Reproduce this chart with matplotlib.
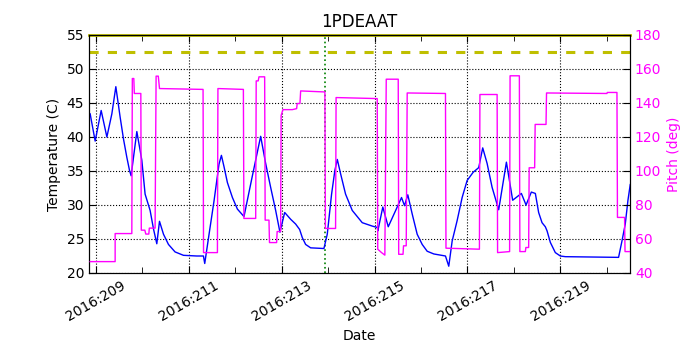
import matplotlib
matplotlib.use("Agg")
import matplotlib.pyplot as plt

# Temperature (blue) : day-of-year vs deg C
temp_day = [208.877, 208.985, 209.114, 209.237, 209.344, 209.430, 209.523, 209.595,
            209.667, 209.724, 209.759, 209.882, 209.989, 210.06, 210.168, 210.24,
            210.312, 210.370, 210.456, 210.563, 210.705, 210.886, 211.172, 211.316,
            211.344, 211.437, 211.544, 211.651, 211.703, 211.76, 211.832, 211.94,
            212.047, 212.189, 212.37, 212.548, 212.656, 212.763, 212.871, 212.963,
            213.065, 213.194, 213.301, 213.387, 213.445, 213.516, 213.624, 213.910,
            213.982, 214.075, 214.146, 214.198, 214.269, 214.376, 214.520, 214.735,
            214.95, 215.058, 215.071, 215.178, 215.295, 215.581, 215.645, 215.716,
            215.810, 215.918, 216.026, 216.133, 216.276, 216.527, 216.598, 216.671,
            216.778, 216.886, 216.993, 217.122, 217.243, 217.329, 217.424, 217.531,
            217.673, 217.839, 217.974, 218.161, 218.262, 218.376, 218.462, 218.533,
            218.606, 218.677, 218.714, 218.785, 218.892, 219.0, 219.108, 220.254,
            220.327, 220.398, 220.456, 220.505]
temp_val = [43.4, 39.4, 43.9, 40.0, 43.4, 47.4, 42.9, 39.7,
            37.0, 35.1, 34.3, 40.8, 36.6, 31.6, 29.2, 26.5,
            24.3, 27.6, 25.7, 24.2, 23.1, 22.6, 22.5, 22.5,
            21.4, 25.7, 30.6, 36.0, 37.3, 35.6, 33.3, 31.1,
            29.4, 28.3, 34.3, 40.1, 36.1, 32.6, 29.2, 26.0,
            28.9, 27.9, 27.2, 26.4, 25.2, 24.2, 23.7, 23.6,
            25.7, 31.6, 35.1, 36.7, 34.6, 31.6, 29.2, 27.4,
            26.9, 26.7, 26.2, 29.7, 26.8, 31.1, 29.9, 31.5,
            28.7, 25.7, 24.2, 23.2, 22.8, 22.5, 21.0, 24.7,
            27.7, 31.1, 33.6, 34.8, 35.5, 38.4, 36.1, 32.6,
            29.3, 36.3, 30.7, 31.7, 30.0, 31.9, 31.7, 28.9,
            27.4, 26.8, 26.2, 24.5, 23.0, 22.5, 22.4, 22.3,
            24.7, 27.2, 30.7, 33.0]

# Pitch (magenta) : day-of-year vs deg
pitch_day = [208.877, 209.415, 209.415, 209.774, 209.785, 209.817, 209.828, 209.968,
             209.978, 210.054, 210.075, 210.140, 210.151, 210.275, 210.297, 210.344,
             210.370, 211.308, 211.318, 211.617, 211.628, 212.176, 212.187, 212.441,
             212.452, 212.495, 212.512, 212.634, 212.645, 212.727, 212.738, 212.892,
             212.903, 212.978, 212.989, 213.028, 213.230, 213.323, 213.334, 213.394,
             213.409, 213.931, 213.942, 214.161, 214.172, 215.058, 215.069, 215.151,
             215.222, 215.252, 215.510, 215.520, 215.613, 215.624, 215.682, 215.703,
             216.527, 216.538, 217.258, 217.269, 217.639, 217.649, 217.908, 217.918,
             218.118, 218.129, 218.247, 218.258, 218.318, 218.329, 218.447, 218.458,
             218.692, 218.703, 220.004, 220.011, 220.219, 220.230, 220.383, 220.393,
             220.505]
pitch_val = [46.7, 46.7, 63.2, 63.2, 154.4, 154.4, 145.6, 145.6,
             65.2, 65.2, 62.9, 62.9, 66.4, 66.4, 155.8, 155.8,
             148.5, 148.0, 52.0, 52.0, 148.5, 148.0, 72.1, 72.1,
             153.0, 153.0, 155.4, 155.4, 71.1, 71.1, 57.9, 57.9,
             64.4, 64.4, 132.7, 136.1, 136.1, 136.7, 139.7, 139.7,
             147.1, 146.5, 66.2, 66.2, 143.2, 142.6, 54.0, 52.0,
             50.5, 154.0, 154.0, 51.0, 51.0, 56.0, 56.0, 145.9,
             145.6, 54.6, 54.0, 145.0, 145.0, 52.0, 52.6, 156.0,
             156.0, 52.6, 52.6, 55.0, 55.0, 101.9, 101.9, 127.4,
             127.4, 145.9, 145.6, 146.2, 146.2, 72.7, 72.7, 52.6,
             52.6]

limit_temp = 52.5
top_temp = 55
marker_day = 213.93
major_days = [209, 211, 213, 215, 217, 219]
major_labels = ["2016:209", "2016:211", "2016:213", "2016:215", "2016:217", "2016:219"]
minor_days = [210, 212, 214, 216, 218, 220]
title = "1PDEAAT"

MAG = "#ff00ff"

fig = plt.figure(figsize=(7, 3.5), dpi=100)
ax = fig.add_axes([0.127, 0.22, 0.773, 0.68])
ax.plot(temp_day, temp_val, color="#0000ff", lw=1.0, zorder=3)
ax.axhline(limit_temp, color=(0.75, 0.75, 0), lw=2.2, ls=(0, (3, 3)), zorder=2)
ax.axhline(top_temp, color=(0.75, 0.75, 0), lw=2.0, zorder=2, clip_on=False)
ax.axvline(marker_day, color=(0, 0.5, 0), lw=1.2, ls=":", zorder=2)
ax.set_xlim(208.85, 220.5)
ax.set_ylim(20, 55)
ax.set_yticks(range(20, 56, 5))
ax.set_xticks(major_days)
ax.set_xticklabels(major_labels, rotation=30, ha="center")
ax.set_xticks(minor_days, minor=True)
ax.grid(True, which="major", color="black", ls=":", lw=0.8)
ax.tick_params(direction="in", top=True, which="both", labelsize=10, length=4)
ax.tick_params(which="major", length=5)
ax.set_xlabel("Date", fontsize=10)
ax.set_ylabel("Temperature (C)", fontsize=10)
ax.set_title(title, fontsize=12)

ax2 = ax.twinx()
ax2.plot(pitch_day, pitch_val, color=MAG, lw=1.0, zorder=3)
ax2.set_ylim(40, 180)
ax2.set_yticks(range(40, 181, 20))
ax2.tick_params(direction="in", labelsize=10, labelcolor=MAG, length=5)
ax2.set_ylabel("Pitch (deg)", color=MAG, fontsize=10)
ax2.set_xlim(208.85, 220.5)

fig.savefig("out.png", dpi=100)
